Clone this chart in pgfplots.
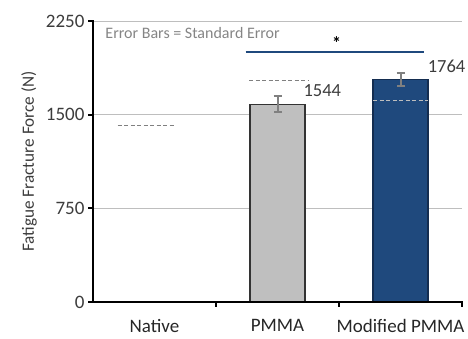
\documentclass[border=0pt]{standalone}
\usepackage{fontspec}
\setmainfont{Carlito}
\usepackage{pgfplots}
\pgfplotsset{compat=1.18}
\definecolor{navy}{RGB}{31,73,125}
\definecolor{navyedge}{RGB}{20,45,80}
\definecolor{barg}{RGB}{191,191,191}
\definecolor{gridg}{RGB}{190,190,190}
\definecolor{errg}{RGB}{128,128,128}
\definecolor{txtg}{RGB}{60,60,60}
\begin{document}
\begin{tikzpicture}
\begin{axis}[
  at={(-3.69pt,-3.75pt)}, anchor=south west,
  scale only axis, width=376.38pt, height=288.49pt,
  xmin=-0.53, xmax=2.53, ymin=-30, ymax=2280,
  hide axis=false,
  axis line style={draw=none},
  axis x line*=bottom, axis y line*=left,
  xtick={0,1,2},
  xticklabels={Native, PMMA, Modified PMMA},
  ytick={0,750,1500,2250},
  major tick length=0pt,
  /pgf/number format/assume math mode=true,
  /pgf/number format/1000 sep={},
  ticklabel style={font=\fontsize{19}{21}\selectfont, text=txtg},
  yticklabel style={xshift=-1.3pt},
  xticklabel style={yshift=-10.3pt, text=black!85},
  ylabel={Fatigue Fracture Force (N)},
  ylabel style={font=\fontsize{17.2}{19}\selectfont, text=txtg, yshift=2.3pt},
  clip=false,
]
% gridlines
\addplot[gridg, line width=1pt] coordinates {(-0.5,750) (2.5,750)};
\addplot[gridg, line width=1pt] coordinates {(-0.5,1500) (2.5,1500)};
\addplot[gridg, line width=1pt] coordinates {(-0.5,2250) (2.5,2250)};
% bars
\addplot[ybar, bar width=0.447, fill=barg, draw=black!80, line width=1.1pt] coordinates {(1,1584)};
\addplot[ybar, bar width=0.447, fill=navy, draw=navyedge, line width=1.1pt] coordinates {(2,1783)};
% error bars
\addplot[draw=none, mark=none, error bars/.cd, y dir=both, y explicit, error bar style={errg, line width=2pt}, error mark options={rotate=90, errg, line width=2pt, mark size=4pt}]
  coordinates {(1,1586) +- (0,61) (2,1780) +- (0,54)};
% dashed reference lines
\addplot[errg, line width=1.1pt, dash pattern=on 4pt off 2.5pt] coordinates {(-0.3,1410) (0.17,1410)};
\addplot[errg, line width=1.1pt, dash pattern=on 4pt off 2.5pt] coordinates {(0.77,1773) (1.25,1773)};
\addplot[gridg, line width=1.1pt, dash pattern=on 4pt off 2.5pt] coordinates {(1.78,1615) (2.225,1615)};
% significance
\addplot[navy, line width=1.3pt] coordinates {(0.74,2002) (2.195,2002)};
\node[font=\fontsize{18}{18}\selectfont\bfseries] at (axis cs:1.48,2070) {*};
% value labels
\node[anchor=south west, font=\fontsize{18.5}{20}\selectfont, text=txtg, inner sep=0pt] at (axis cs:1.21,1640) {1544};
\node[anchor=south west, font=\fontsize{18.5}{20}\selectfont, text=txtg, inner sep=0pt] at (axis cs:2.22,1832) {1764};
\node[anchor=north west, font=\fontsize{16}{18}\selectfont, text=gridg!70!black, inner sep=0pt] at (axis cs:-0.4,2200) {Error Bars = Standard Error};
% axis lines
\addplot[black, line width=2.4pt, line cap=rect] coordinates {(-0.5,2250) (-0.5,0)};
\addplot[black, line width=2.4pt, line cap=rect] coordinates {(-0.5,0) (2.5,0)};
\coordinate (TL) at (axis cs:-0.5,2250);
\coordinate (BL) at (axis cs:-0.5,0);
\coordinate (BR) at (axis cs:2.5,0);
\coordinate (Y1) at (axis cs:-0.5,750);
\coordinate (Y2) at (axis cs:-0.5,1500);
\coordinate (X1) at (axis cs:0.5,0);
\coordinate (X2) at (axis cs:1.5,0);
\end{axis}
\draw[black, line width=2pt] (BL) -- ++(-5pt,0);
\draw[black, line width=2pt] (Y1) -- ++(-5pt,0);
\draw[black, line width=2pt] (Y2) -- ++(-5pt,0);
\draw[black, line width=2pt] (TL) -- ++(-5pt,0);
\draw[black, line width=2pt] (X1) -- ++(0,-5pt);
\draw[black, line width=2pt] (X2) -- ++(0,-5pt);
\draw[black, line width=2pt] (BR) -- ++(0,-5pt);
\pgfresetboundingbox
\path (-93pt,-37pt) rectangle (375pt,302pt);
\end{tikzpicture}
\end{document}
